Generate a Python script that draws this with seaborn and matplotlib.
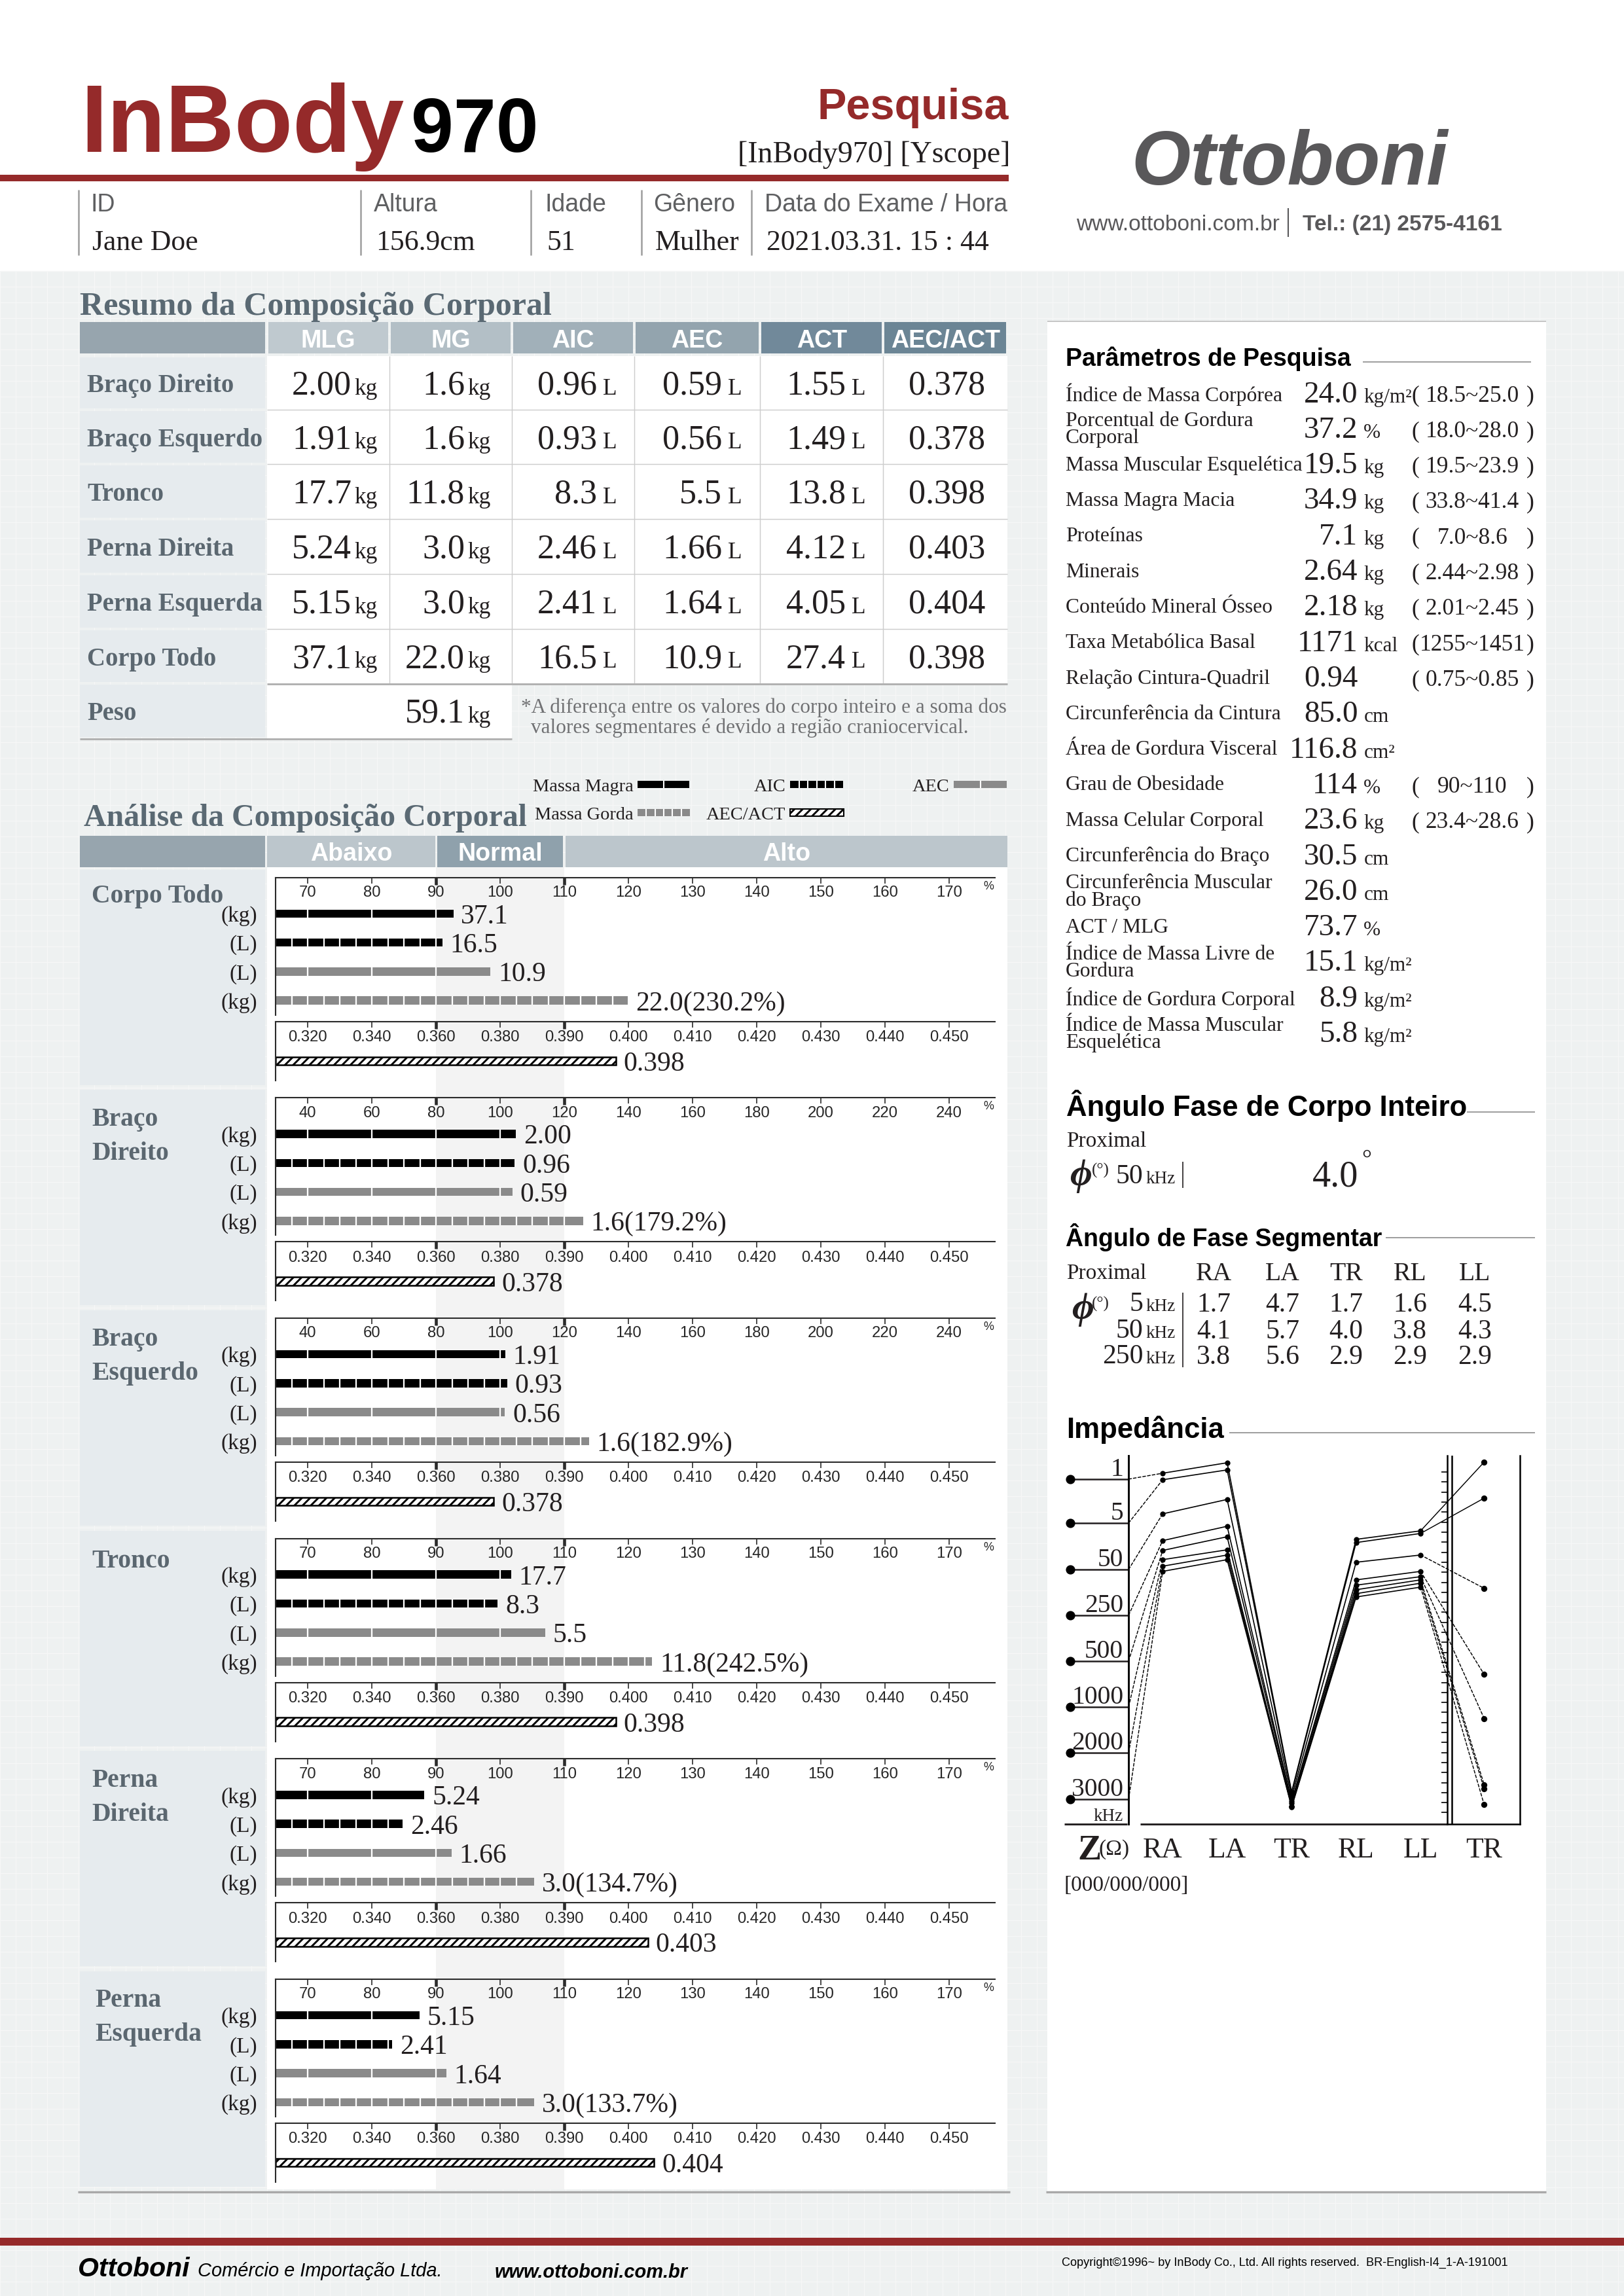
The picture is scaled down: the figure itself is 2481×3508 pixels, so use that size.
import numpy as np
import pandas as pd
import matplotlib
matplotlib.use('Agg')
import matplotlib.pyplot as plt
from matplotlib.patches import Rectangle, ConnectionPatch
from matplotlib import font_manager
import seaborn as sns

# ---------------- data ----------------
header_labels = ['ID', 'Altura', 'Idade', 'Gênero', 'Data do Exame / Hora']
header_values = ['Jane Doe', '156.9cm', '51', 'Mulher', '2021.03.31. 15 : 44']

table_cols = ['MLG', 'MG', 'AIC', 'AEC', 'ACT', 'AEC/ACT']
table_units = ['kg', 'kg', 'L', 'L', 'L', '']
table_rows = ['Braço Direito', 'Braço Esquerdo', 'Tronco', 'Perna Direita', 'Perna Esquerda', 'Corpo Todo']
mlg = ['2.00', '1.91', '17.7', '5.24', '5.15', '37.1']
mg = ['1.6', '1.6', '11.8', '3.0', '3.0', '22.0']
aic = ['0.96', '0.93', '8.3', '2.46', '2.41', '16.5']
aec = ['0.59', '0.56', '5.5', '1.66', '1.64', '10.9']
act = ['1.55', '1.49', '13.8', '4.12', '4.05', '27.4']
aec_act = ['0.378', '0.378', '0.398', '0.403', '0.404', '0.398']
peso = '59.1'
nota = ['*A diferença entre os valores do corpo inteiro e a soma dos',
        'valores segmentares é devido a região craniocervical.']

seg_names = ['Corpo Todo', 'Braço\nDireito', 'Braço\nEsquerdo', 'Tronco', 'Perna\nDireita', 'Perna\nEsquerda']
seg_idx = [5, 0, 1, 2, 3, 4]          # matching row of the summary table
seg_scale = ['pct', 'arm', 'arm', 'pct', 'pct', 'pct']
pct_ticks = [70, 80, 90, 100, 110, 120, 130, 140, 150, 160, 170]
arm_ticks = [40, 60, 80, 100, 120, 140, 160, 180, 200, 220, 240]
ratio_ticks = [0.320, 0.340, 0.360, 0.380, 0.390, 0.400, 0.410, 0.420, 0.430, 0.440, 0.450]
mlg_pct = [92.7, 104.9, 101.6, 101.7, 88.2, 87.4]
aic_pct = [91.0, 104.5, 102.2, 99.6, 84.8, 83.2]
aec_pct = [98.5, 103.8, 101.5, 107.0, 92.4, 91.6]
mg_pct = [119.9, 125.9, 127.7, 123.7, 105.3, 105.3]
mg_pct_label = ['230.2%', '179.2%', '182.9%', '242.5%', '134.7%', '133.7%']

param_labels = ['Índice de Massa Corpórea', 'Porcentual de Gordura\nCorporal', 'Massa Muscular Esquelética',
                'Massa Magra Macia', 'Proteínas', 'Minerais', 'Conteúdo Mineral Ósseo', 'Taxa Metabólica Basal',
                'Relação Cintura-Quadril', 'Circunferência da Cintura', 'Área de Gordura Visceral',
                'Grau de Obesidade', 'Massa Celular Corporal', 'Circunferência do Braço',
                'Circunferência Muscular\ndo Braço', 'ACT / MLG', 'Índice de Massa Livre de\nGordura',
                'Índice de Gordura Corporal', 'Índice de Massa Muscular\nEsquelética']
param_values = ['24.0', '37.2', '19.5', '34.9', '7.1', '2.64', '2.18', '1171', '0.94', '85.0', '116.8',
                '114', '23.6', '30.5', '26.0', '73.7', '15.1', '8.9', '5.8']
param_units = ['kg/m²', '%', 'kg', 'kg', 'kg', 'kg', 'kg', 'kcal', '', 'cm', 'cm²', '%', 'kg', 'cm', 'cm',
               '%', 'kg/m²', 'kg/m²', 'kg/m²']
param_ranges = ['18.5~25.0', '18.0~28.0', '19.5~23.9', '33.8~41.4', '7.0~8.6', '2.44~2.98', '2.01~2.45',
                '1255~1451', '0.75~0.85', '', '', '90~110', '23.4~28.6', '', '', '', '', '', '']

phase_whole = '4.0'
phase_segs = ['RA', 'LA', 'TR', 'RL', 'LL']
phase_freqs = ['5', '50', '250']
phase_vals = {'RA': ['1.7', '4.1', '3.8'], 'LA': ['4.7', '5.7', '5.6'], 'TR': ['1.7', '4.0', '2.9'],
              'RL': ['1.6', '3.8', '2.9'], 'LL': ['4.5', '4.3', '2.9']}

imp_freqs = [1, 5, 50, 250, 500, 1000, 2000, 3000]
imp_ra = [390.0, 382.7, 344.6, 314.7, 303.7, 293.4, 286.1, 280.3]
imp_la = [401.7, 393.7, 360.7, 330.7, 319.0, 304.4, 298.6, 293.4]
imp_tr = [34.0, 32.2, 27.7, 23.4, 21.2, 17.9, 17.7, 16.9]
imp_rl = [316.1, 312.5, 290.5, 270.8, 264.9, 259.8, 255.4, 251.7]
imp_ll = [325.6, 322.7, 298.6, 280.3, 274.4, 270.8, 267.1, 262.7]

# ---------------- style ----------------
W, H, DPI = 2481, 3508, 300
sns.set_theme(style='white')
SERIF = 'Liberation Serif'
SANS = 'Liberation Sans'
plt.rcParams['font.family'] = [SANS, 'DejaVu Sans']
plt.rcParams['hatch.linewidth'] = 0.7
_names = {f.name for f in font_manager.fontManager.ttflist}
HAS_NARROW = 'Liberation Sans Narrow' in _names


def cond(size):
    # condensed sans if installed, else regular sans at a width-matching size
    if HAS_NARROW:
        return 'Liberation Sans Narrow', size
    return SANS, size * 0.82


INK = '#231f20'
RED = '#952a2a'
SLATE = '#5a6973'
LABEL = '#5b6770'
GRAYBAR = '#8a8a8a'
CELL = '#e6ebee'
LOGO_GRAY = '#59585a'

fig = plt.figure(figsize=((W + 0.3) / DPI, (H + 0.3) / DPI), dpi=DPI)
bg = fig.add_axes([0, 0, 1, 1], zorder=-5)
bg.set_xlim(0, W)
bg.set_ylim(H, 0)
bg.axis('off')


def add_ax(x0, y0, x1, y1):
    ax = fig.add_axes([x0 / W, 1 - y1 / H, (x1 - x0) / W, (y1 - y0) / H])
    ax.set_facecolor('none')
    return ax


def txt(x, y, s, size, fam=SERIF, color=INK, ha='left', va='center_baseline', weight='normal',
        style='normal'):
    fb = 'DejaVu Serif' if fam == SERIF else 'DejaVu Sans'
    bg.text(x, y, s, fontsize=size, family=[fam, fb], color=color, ha=ha, va=va,
            fontweight=weight, fontstyle=style)


def rect(x0, y0, x1, y1, color, z=0, **kw):
    bg.add_patch(Rectangle((x0, y0), x1 - x0, y1 - y0, facecolor=color, edgecolor='none', lw=0,
                           zorder=z, **kw))


def line(xs, ys, color=INK, lw=0.5, **kw):
    bg.plot(xs, ys, color=color, lw=lw, solid_capstyle='butt', **kw)


# ---------------- background ----------------
rect(0, 414, W, H, '#eef1f1', z=-3)
for gx in np.arange(0, W, 24):
    line([gx, gx], [414, H], color='#f6f7f7', lw=0.3, zorder=-2)
for gy in np.arange(414, H, 24):
    line([0, W], [gy, gy], color='#f6f7f7', lw=0.3, zorder=-2)

# ---------------- header ----------------
txt(123, 232, 'InBody', 35, SANS, RED, va='baseline', weight='bold')
txt(628, 232, '970', 28, SANS, 'black', va='baseline', weight='bold')
txt(1541, 182, 'Pesquisa', 16, SANS, RED, ha='right', va='baseline', weight='bold')
txt(1543, 248, '[InBody970] [Yscope]', 11, SERIF, ha='right', va='baseline')
rect(0, 267, 1541, 277, RED, z=1)
for sx in [120, 551, 811, 980, 1148]:
    line([sx, sx], [290, 390], color='#9d9d9d', lw=0.6)
for x, lab, val in zip([138, 571, 832, 998, 1168], header_labels, header_values):
    txt(x, 323, lab, 9, SANS, '#5e5f61', va='baseline')
    txt(x + 3, 382, val, 10.5, SERIF, va='baseline')

fam, sz = cond(34)
txt(1970, 282, 'Ottoboni', sz, fam, LOGO_GRAY, ha='center', va='baseline', weight='bold', style='italic')
fam, sz = cond(9.8)
txt(1955, 352, 'www.ottoboni.com.br', sz, fam, LOGO_GRAY, ha='right', va='baseline')
line([1968, 1968], [318, 362], color=LOGO_GRAY, lw=0.5)
txt(1990, 352, 'Tel.: (21) 2575-4161', sz, fam, LOGO_GRAY, va='baseline', weight='bold')

# ---------------- summary table ----------------
txt(122, 481, 'Resumo da Composição Corporal', 12, SERIF, SLATE, va='baseline', weight='bold')
col_edges = [122, 408, 595, 782, 969, 1161, 1349, 1539]
hdr_colors = ['#97a5ae', '#bfc9cf', '#b3bfc6', '#a1b0b9', '#93a4ae', '#71899a', '#6b8595']
fam, sz = cond(11)
for c in range(7):
    x0 = col_edges[c] + (0 if c == 0 else 2)
    x1 = col_edges[c + 1] - (3 if c == 0 else 2)
    rect(x0, 492, x1, 540, hdr_colors[c])
    if c > 0:
        txt((x0 + x1) / 2, 517, table_cols[c - 1], sz, fam, 'white', ha='center', weight='bold')

row_edges = [544, 626, 709, 793, 877, 961, 1044, 1128]
rect(408, 544, 1539, 1044, 'white')
rect(408, 1044, 782, 1128, 'white')
for r in range(7):
    rect(122, row_edges[r] + 2, 405, row_edges[r + 1] - 2, CELL)
for ye in row_edges[1:6]:
    line([408, 1539], [ye, ye], color='#cdcdcd', lw=0.35)
for xe in col_edges[2:7]:
    line([xe, xe], [544, 1044], color='#cdcdcd', lw=0.35)
line([408, 1539], [1045, 1045], color='#b1b1b1', lw=0.7)
line([122, 782], [1129, 1129], color='#b1b1b1', lw=0.7)

unit_left = [541, 714, 921, 1112, 1301, None]
cols_data = [mlg, mg, aic, aec, act, aec_act]
for r in range(6):
    yc = (row_edges[r] + row_edges[r + 1]) / 2
    ybl = yc + 17.5
    txt(133, yc, table_rows[r], 9.3, SERIF, LABEL, weight='bold')
    for c in range(6):
        if table_units[c]:
            gap = 4 if table_units[c] == 'kg' else 9
            txt(unit_left[c] - gap, ybl, cols_data[c][r], 12.5, SERIF, ha='right', va='baseline')
            txt(unit_left[c], ybl, table_units[c], 8.5, SERIF, va='baseline')
        else:
            txt(1505, ybl, cols_data[c][r], 12.5, SERIF, ha='right', va='baseline')
yc = (row_edges[6] + row_edges[7]) / 2
txt(133, yc, 'Peso', 9.3, SERIF, LABEL, weight='bold')
txt(unit_left[1] - 4, yc + 17.5, peso, 12.5, SERIF, ha='right', va='baseline')
txt(unit_left[1], yc + 17.5, 'kg', 8.5, SERIF, va='baseline')
txt(796, 1078, nota[0], 7.5, SERIF, '#707173')
txt(811, 1109, nota[1], 7.5, SERIF, '#707173')

# ---------------- analysis section ----------------
txt(128, 1262, 'Análise da Composição Corporal', 11.5, SERIF, SLATE, va='baseline', weight='bold')


def swatch(x0, x1, yc, kind):
    h = 11
    if kind == 'hatch':
        bg.add_patch(Rectangle((x0, yc - h / 2), x1 - x0, h, facecolor='white', edgecolor='black',
                               lw=0.5, hatch='////////'))
        return
    col = 'black' if kind.endswith('k') else GRAYBAR
    rect(x0, yc - h / 2, x1, yc + h / 2, col, z=2)
    cuts = [(x0 + x1) / 2] if kind.startswith('solid') else np.linspace(x0, x1, 7)[1:-1]
    bg.vlines(cuts, yc - h / 2, yc + h / 2, colors='white', lw=0.5, zorder=3)


legend_items = [('Massa Magra', 968, 974, 1053, 1199, 'solid_k'), ('AIC', 1200, 1207, 1288, 1199, 'dash_k'),
                ('AEC', 1450, 1457, 1538, 1199, 'solid_g'), ('Massa Gorda', 968, 974, 1054, 1242, 'dash_g'),
                ('AEC/ACT', 1200, 1207, 1289, 1242, 'hatch')]
for name, xt, x0, x1, yy, kind in legend_items:
    txt(xt, yy, name, 6.8, SERIF, ha='right')
    swatch(x0, x1, yy, kind)

CH_X0, CH_X1, UNIT = 421, 1520, 98.0
XMAX = (CH_X1 - CH_X0) / UNIT
band_labels = [('', 122, 405, '#97a5ae'), ('Abaixo', 408, 665, '#bcc6cc'),
               ('Normal', 668, 860, '#8fa1ac'), ('Alto', 864, 1539, '#bcc6cc')]
fam, sz = cond(11)
for lab, x0, x1, col in band_labels:
    rect(x0, 1277, x1, 1325, col)
    if lab:
        txt((x0 + x1) / 2, 1301, lab, sz, fam, 'white', ha='center', weight='bold')

rect(408, 1325, 1539, 3345, 'white')
rect(CH_X0 + 2.5 * UNIT, 1325, CH_X0 + 4.5 * UNIT, 3345, '#f3f3f3', z=0.5)

BLOCK0, BLOCK_STEP, BLOCK_H = 1329, 336.6, 329
ROW0, ROW_STEP = 67, 44.3
BAR_H = 12.5 / ROW_STEP
TICKFAM, TICKSZ = cond(7)


def to_pos(v, ticks):
    return 0.5 + float(np.interp(v, ticks, np.arange(len(ticks))))


def fix_bar_height(ax):
    for p in ax.patches:
        c = round(p.get_y() + p.get_height() / 2)
        p.set_y(c - BAR_H / 2)
        p.set_height(BAR_H)


def style_bar_axes(ax, ylim, labels, frac):
    ax.set_xlim(0, XMAX)
    ax.set_ylim(*ylim)
    ax.set_xlabel('')
    ax.set_ylabel('')
    ax.set_yticks([])
    for s in ['right', 'bottom']:
        ax.spines[s].set_visible(False)
    for s in ['top', 'left']:
        ax.spines[s].set_visible(True)
        ax.spines[s].set_color('#2b2b2b')
        ax.spines[s].set_linewidth(0.5)
    ax.xaxis.set_ticks_position('top')
    ax.set_xticks([0.5 + k for k in range(len(labels))])
    ax.set_xticklabels([])
    ax.tick_params(axis='x', which='major', direction='in', length=2.2, width=0.4, color='#2b2b2b',
                   top=True, bottom=False, labeltop=False, labelbottom=False)
    for k, tk in enumerate(ax.xaxis.get_major_ticks()):
        if k in (2, 4):
            tk.tick2line.set_markeredgewidth(1.1)
            tk.tick2line.set_markersize(2.6)
    for k, lab in enumerate(labels):
        ax.text(0.5 + k, frac, lab, transform=ax.get_xaxis_transform(), ha='center', va='center',
                fontsize=TICKSZ, family=[TICKFAM])


for b in range(6):
    T = BLOCK0 + BLOCK_STEP * b
    r = seg_idx[b]
    ticks = pct_ticks if seg_scale[b] == 'pct' else arm_ticks
    rect(122, T, 405, T + BLOCK_H, CELL)
    lines = seg_names[b].split('\n')
    xname = 145 if b == 5 else 140
    if len(lines) == 1:
        txt(xname, T + (36 if b == 0 else 42), lines[0], 9.5, SERIF, LABEL, weight='bold')
    else:
        txt(xname, T + 40, lines[0], 9.5, SERIF, LABEL, weight='bold')
        txt(xname, T + 92, lines[1], 9.5, SERIF, LABEL, weight='bold')
    for i, u in enumerate(['(kg)', '(L)', '(L)', '(kg)']):
        txt(393, T + ROW0 + ROW_STEP * i, u, 8, SERIF, ha='right')

    vals = [mlg_pct[b], aic_pct[b], aec_pct[b], mg_pct[b]]
    pos = [to_pos(v, ticks) for v in vals]
    labels = [mlg[r], aic[r], aec[r], f'{mg[r]}({mg_pct_label[b]})']
    ax = add_ax(CH_X0, T + 12, CH_X1, T + 222)
    dfb = pd.DataFrame({'comp': ['MLG', 'AIC', 'AEC', 'MG'], 'pos': pos})
    sns.barplot(data=dfb, x='pos', y='comp', hue='comp', palette=['black', 'black', GRAYBAR, GRAYBAR],
                orient='h', dodge=False, saturation=1, legend=False, edgecolor='none', linewidth=0,
                ax=ax)
    fix_bar_height(ax)
    for i, p in enumerate(pos):
        if i in (0, 2):
            cuts = [0.5 + k for k in range(11) if 0.5 + k < p - 0.03]
        else:
            cuts = [c for c in np.arange(0.25, p - 0.05, 0.25)]
        ax.vlines(cuts, i - BAR_H / 2 - 0.01, i + BAR_H / 2 + 0.01, colors='white', lw=0.55, zorder=4)
        ax.text(p + 0.12, i, labels[i], ha='left', va='center_baseline', fontsize=10,
                family=[SERIF, 'DejaVu Serif'], color=INK)
    style_bar_axes(ax, ((222 - ROW0) / ROW_STEP, (12 - ROW0) / ROW_STEP),
                   [str(t) for t in ticks], 1 - 23 / 210)
    ax.text(11.11, 1 - 13 / 210, '%', transform=ax.get_xaxis_transform(), ha='center', va='center',
            fontsize=TICKSZ * 0.75, family=[TICKFAM])

    axr = add_ax(CH_X0, T + 232, CH_X1, T + 322)
    rpos = to_pos(float(aec_act[r]), ratio_ticks)
    sns.barplot(x=[rpos], y=['AEC/ACT'], orient='h', color='white', saturation=1,
                edgecolor='black', linewidth=0.6, hatch='////////', ax=axr)
    fix_bar_height(axr)
    axr.text(rpos + 0.12, 0, aec_act[r], ha='left', va='center_baseline', fontsize=10,
             family=[SERIF, 'DejaVu Serif'], color=INK)
    style_bar_axes(axr, ((322 - 292) / ROW_STEP, (232 - 292) / ROW_STEP),
                   [f'{t:.3f}' for t in ratio_ticks], 1 - 24 / 90)

line([119, 1543], [3349, 3349], color='#a9a9a9', lw=0.8)

# ---------------- right panel ----------------
rect(1600, 491, 2362, 3349, 'white')
line([1600, 2362], [491, 491], color='#bdbdbd', lw=0.4)
line([1598, 2362], [3349, 3349], color='#a9a9a9', lw=0.8)

txt(1628, 559, 'Parâmetros de Pesquisa', 9, SANS, 'black', va='baseline', weight='bold')
line([2082, 2339], [553, 553], color='#8c8c8c', lw=0.4)
for i in range(len(param_labels)):
    yc = 599 + 54.3 * i
    parts = param_labels[i].split('\n')
    if len(parts) == 1:
        txt(1628, yc, parts[0], 7.6, SERIF)
    else:
        txt(1628, yc - 13, parts[0], 7.6, SERIF)
        txt(1628, yc + 13, parts[1], 7.6, SERIF)
    txt(2074, yc + 15.5, param_values[i], 11.3, SERIF, ha='right', va='baseline')
    if param_units[i]:
        txt(2083, yc + 15.5, param_units[i], 7.5, SERIF, va='baseline')
    if param_ranges[i]:
        txt(2156, yc + 2, '(', 8.5, SERIF)
        txt(2249, yc + 2, param_ranges[i], 8.5, SERIF, ha='center')
        txt(2343, yc + 2, ')', 8.5, SERIF, ha='right')

# phase angle
txt(1629, 1705, 'Ângulo Fase de Corpo Inteiro', 10.5, SANS, 'black', va='baseline', weight='bold')
line([2241, 2345], [1699, 1699], color='#8c8c8c', lw=0.4)
txt(1629, 1740, 'Proximal', 8, SERIF)
txt(1634, 1791, 'ϕ', 14, SERIF, weight='bold', style='italic')
txt(1668, 1786, '(°)', 6, SERIF)
txt(1746, 1808, '50', 10, SERIF, ha='right', va='baseline')
txt(1750, 1808, 'kHz', 6.5, SERIF, va='baseline')
line([1807, 1807], [1775, 1815], lw=0.4)
txt(2075, 1812, phase_whole, 13.5, SERIF, ha='right', va='baseline')
txt(2080, 1768, '°', 9, SERIF)

txt(1628, 1886, 'Ângulo de Fase Segmentar', 9, SANS, 'black', weight='bold')
line([2117, 2345], [1891, 1891], color='#8c8c8c', lw=0.4)
seg_cx = [1854, 1959, 2056, 2154, 2253]
txt(1629, 1942, 'Proximal', 8, SERIF)
for cx, s in zip(seg_cx, phase_segs):
    txt(cx, 1942, s, 9.5, SERIF, ha='center')
txt(1637, 1995, 'ϕ', 14, SERIF, weight='bold', style='italic')
txt(1668, 1990, '(°)', 6, SERIF)
for j, (f, yy) in enumerate(zip(phase_freqs, [1989, 2030, 2069])):
    txt(1746, yy + 14, f, 10, SERIF, ha='right', va='baseline')
    txt(1750, yy + 14, 'kHz', 6.5, SERIF, va='baseline')
    for cx, s in zip(seg_cx, phase_segs):
        txt(cx, yy, phase_vals[s][j], 10, SERIF, ha='center')
line([1807, 1807], [1975, 2089], lw=0.4)

# impedance
txt(1629, 2180, 'Impedância', 10.5, SANS, 'black', weight='bold')
line([1878, 2345], [2189, 2189], color='#8c8c8c', lw=0.4)

IMP_TOP, IMP_BOT = 2224, 2787
ax_imp = add_ax(1724, IMP_TOP, 2211, IMP_BOT)
imp_long = pd.DataFrame({
    'seg_x': np.tile(np.arange(5), len(imp_freqs)),
    'freq': np.repeat(imp_freqs, 5),
    'z': np.column_stack([imp_ra, imp_la, imp_tr, imp_rl, imp_ll]).ravel(),
})
sns.lineplot(data=imp_long, x='seg_x', y='z', units='freq', estimator=None, sort=False, color='black',
             linewidth=0.4, ax=ax_imp)
sns.scatterplot(data=imp_long, x='seg_x', y='z', color='black', s=4, linewidth=0, ax=ax_imp, zorder=5)
ax_imp.set_xlim((1724 - 1776) / 98.5, (2211 - 1776) / 98.5)
ax_imp.set_ylim(390 - (IMP_BOT - 2251) / 1.367, 390 + (2251 - IMP_TOP) / 1.367)
ax_imp.set_xticks([])
ax_imp.set_yticks([])
ax_imp.set_xlabel('')
ax_imp.set_ylabel('')
for s in ['top', 'right', 'bottom']:
    ax_imp.spines[s].set_visible(False)
ax_imp.spines['left'].set_visible(True)
ax_imp.spines['left'].set_color('black')
ax_imp.spines['left'].set_linewidth(0.7)

ax_tr = add_ax(2211, IMP_TOP, 2322, IMP_BOT)
sns.scatterplot(x=[0.505] * len(imp_tr), y=imp_tr, color='black', s=5, linewidth=0, ax=ax_tr, zorder=5)
ax_tr.set_xlim(0, 1)
ax_tr.set_ylim(34.0 - (IMP_BOT - 2234) / 30.6, 34.0 + (2234 - IMP_TOP) / 30.6)
ax_tr.set_xticks([])
ax_tr.set_yticks(np.arange(16.5, 34.0, 0.5))
ax_tr.set_yticklabels([])
ax_tr.tick_params(axis='y', direction='out', length=2.2, width=0.4, color='black', left=True,
                  right=False, labelleft=False)
for s in ['left', 'right', 'bottom']:
    ax_tr.spines[s].set_visible(True)
    ax_tr.spines[s].set_color('black')
    ax_tr.spines[s].set_linewidth(0.6)
ax_tr.spines['top'].set_visible(False)
ax_tr.axvline(7 / 111, color='black', lw=0.6)

line([1626, 1722], [IMP_BOT, IMP_BOT], lw=0.7)
line([1742, 2211], [IMP_BOT, IMP_BOT], lw=0.7)
freq_rows = [2260, 2327, 2398, 2468, 2538, 2608, 2678, 2749]
for f, yy, zra in zip(imp_freqs, freq_rows, imp_ra):
    line([1635, 1724], [yy, yy], lw=0.6)
    bg.plot([1635], [yy], 'o', color='black', ms=2.4)
    txt(1716, yy - 5, str(f), 9.5, SERIF, ha='right', va='baseline')
    cp = ConnectionPatch(xyA=(1724, yy), coordsA=bg.transData, xyB=(0, zra), coordsB=ax_imp.transData,
                         arrowstyle='-', shrinkA=0, shrinkB=0, lw=0.35, linestyle=(0, (3, 2)),
                         color='black')
    fig.add_artist(cp)
for i, (zll, ztr) in enumerate(zip(imp_ll, imp_tr)):
    cp = ConnectionPatch(xyA=(4, zll), coordsA=ax_imp.transData, xyB=(0.505, ztr), coordsB=ax_tr.transData,
                         arrowstyle='-', shrinkA=0, shrinkB=0, lw=0.35,
                         linestyle='-' if i < 2 else (0, (3, 2)), color='black')
    fig.add_artist(cp)
txt(1716, 2772, 'kHz', 6.5, SERIF, ha='right')
txt(1646, 2822, 'Z', 13, SERIF, weight='bold')
txt(1678, 2822, '(Ω)', 8, SERIF)
for cx, s in zip([1776, 1874.5, 1973, 2071.5, 2170, 2267], ['RA', 'LA', 'TR', 'RL', 'LL', 'TR']):
    txt(cx, 2822, s, 10.5, SERIF, ha='center')
txt(1625, 2877, '[000/000/000]', 8, SERIF)

# ---------------- footer ----------------
rect(0, 3419, W, 3431, RED, z=1)
fam, sz = cond(12)
txt(119, 3478, 'Ottoboni', sz, fam, 'black', va='baseline', weight='bold', style='italic')
fam, sz = cond(8.5)
txt(302, 3478, 'Comércio e Importação Ltda.', sz, fam, 'black', va='baseline', style='italic')
txt(756, 3480, 'www.ottoboni.com.br', sz, fam, 'black', va='baseline', weight='bold', style='italic')
fam, sz = cond(5.3)
txt(1622, 3455, 'Copyright©1996~ by InBody Co., Ltd. All rights reserved.  BR-English-I4_1-A-191001', sz, fam,
    'black')

fig.savefig('out.png', dpi=DPI)
